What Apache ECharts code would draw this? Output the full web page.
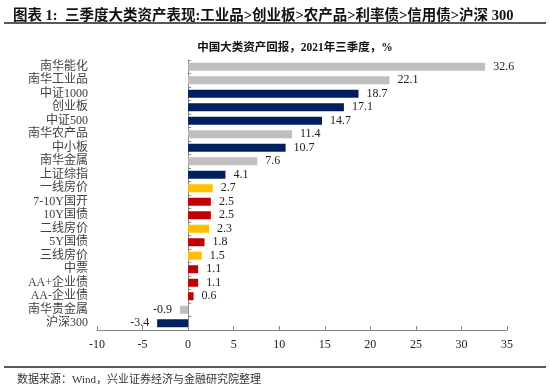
<!DOCTYPE html>
<html>
<head>
<meta charset="utf-8">
<script src="https://cdn.jsdelivr.net/npm/echarts@6/dist/echarts.min.js"></script>
<style>html,body{margin:0;padding:0;background:#fff;}#c{width:550px;height:384px;}</style>
</head>
<body>
<div id="c"></div>
<script>
var categories = ['南华能化','南华工业品','中证1000','创业板','中证500','南华农产品','中小板','南华金属','上证综指','一线房价','7-10Y国开','10Y国债','二线房价','5Y国债','三线房价','中票','AA+企业债','AA-企业债','南华贵金属','沪深300'];
var values = [32.6,22.1,18.7,17.1,14.7,11.4,10.7,7.6,4.1,2.7,2.5,2.5,2.3,1.8,1.5,1.1,1.1,0.6,-0.9,-3.4];
var groups = ['commodity','commodity','equity','equity','equity','commodity','equity','commodity','equity','house','rate','rate','house','rate','house','credit','credit','credit','commodity','equity'];
var groupColors = {commodity:'#BFBFBF', equity:'#002060', house:'#FFC000', rate:'#C00000', credit:'#C00000'};
var xTicks = [-10,-5,0,5,10,15,20,25,30,35];

var serif = '"Liberation Serif","Times New Roman","Noto Sans CJK SC",serif';
var chart = echarts.init(document.getElementById('c'));
chart.setOption({
  animation:false,
  backgroundColor:'#fff',
  title:[
    {text:'图表 1:  三季度大类资产表现:工业品>创业板>农产品>利率债>信用债>沪深 300', left:8, top:4,
     textStyle:{fontSize:14.5,fontWeight:'bold',color:'#111',fontFamily:serif}},
    {text:'中国大类资产回报，2021年三季度，%', left:290, top:37, textAlign:'center',
     textStyle:{fontSize:11.5,fontWeight:'bold',color:'#111',fontFamily:serif}},
    {text:'数据来源：Wind，兴业证券经济与金融研究院整理', left:12, top:370,
     textStyle:{fontSize:11,fontWeight:'normal',color:'#333',fontFamily:serif}}
  ],
  graphic:[
    {type:'line',shape:{x1:4,y1:23,x2:546,y2:23},style:{stroke:'#222',lineWidth:1.5}},
    {type:'line',shape:{x1:4,y1:367,x2:546,y2:367},style:{stroke:'#222',lineWidth:1.5}}
  ],
  grid:{left:97,right:43,top:60,bottom:54},
  xAxis:{type:'value',min:xTicks[0],max:xTicks[xTicks.length-1],interval:5,
    axisLine:{show:true,onZero:false,lineStyle:{color:'#888'}},
    axisTick:{show:true,inside:true,length:4,lineStyle:{color:'#888'}},
    splitLine:{show:false},
    axisLabel:{color:'#222',fontSize:12,fontFamily:serif,margin:9}},
  yAxis:[
    {type:'category',data:categories,inverse:true,position:'left',
     axisLine:{show:false,onZero:false},axisTick:{show:false},
     axisLabel:{interval:0,color:'#404040',fontSize:12,fontFamily:serif,margin:9}},
    {type:'category',data:categories,inverse:true,position:'left',
     axisLine:{show:true,onZero:true,lineStyle:{color:'#888'}},
     axisTick:{show:true,interval:0,inside:true,length:3,lineStyle:{color:'#888'}},
     axisLabel:{show:false}}
  ],
  series:[{
    type:'bar',yAxisIndex:0,barWidth:8,
    data:values.map(function(v,i){return {value:v,itemStyle:{color:groupColors[groups[i]]},
      label:{position: v<0?'left':'right'}};}),
    label:{show:true,distance:8,color:'#222',fontSize:12,fontFamily:serif,
      formatter:function(p){return p.value.toFixed(1);}}
  }]
});
</script>
</body>
</html>
